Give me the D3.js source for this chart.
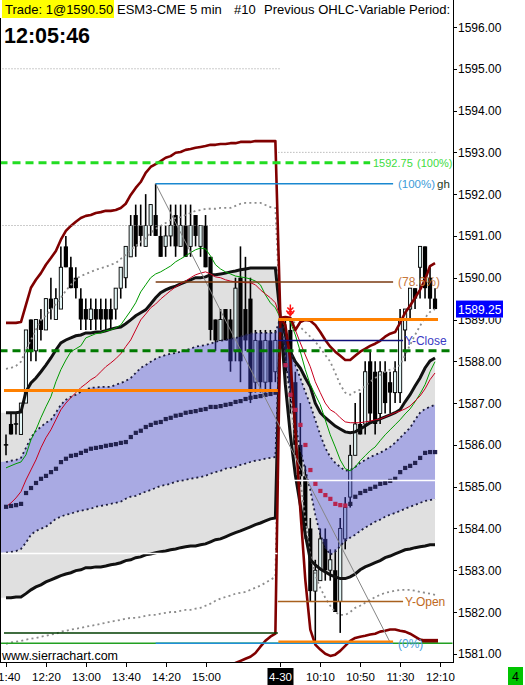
<!DOCTYPE html>
<html><head><meta charset="utf-8">
<script src="https://cdn.jsdelivr.net/npm/d3@7"></script>
<style>body{margin:0;background:#fff;} svg{display:block;}</style>
</head><body><svg id="c" width="525" height="685"></svg>
<script>
// ---------- DATA ----------
const tickIdx = [0,8,16,24,32,40,55,63,71,79,87];
const tickLabels = ["11:40","12:20","13:00","13:40","14:20","15:00","4-30","10:10","10:50","11:30","12:10"];
const priceTicks = [1581,1582,1583,1584,1585,1586,1587,1588,1589,1590,1591,1592,1593,1594,1595,1596];

const openPrev = [1586.0,1586.5,1586.5,1586.25,1587.0,1589.0,1588.25,1589.0,1588.75,1589.5,1589.0,1589.25,1590.75,1590.25,1590.0,1589.5,1589.25,1589.0,1589.25,1589.25,1589.25,1589.25,1589.25,1589.75,1590.0,1590.5,1591.5,1591.25,1590.75,1591.25,1591.5,1591.0,1590.75,1591.0,1591.5,1590.75,1591.25,1590.75,1591.5,1590.75,1591.25,1590.5,1589.0,1588.5,1589.25,1589.0,1588.25,1590.0,1589.25,1589.5,1587.5,1588.5,1587.5,1588.5,1587.75];
const highPrev = [1586.25,1586.75,1586.75,1587.0,1588.75,1589.0,1589.0,1589.25,1589.5,1590.0,1589.75,1590.75,1591.0,1590.5,1590.25,1589.75,1589.5,1589.5,1589.5,1589.5,1589.5,1589.5,1589.75,1590.25,1590.75,1591.5,1591.75,1591.75,1592.0,1591.75,1592.25,1591.25,1591.25,1591.75,1591.75,1591.75,1591.75,1591.75,1591.5,1591.25,1591.5,1590.5,1589.0,1589.25,1589.25,1589.25,1590.0,1590.75,1590.5,1590.0,1588.75,1588.75,1588.75,1588.75,1588.75];
const lowPrev = [1585.75,1586.25,1586.25,1586.25,1587.0,1588.0,1588.0,1588.5,1588.75,1589.0,1589.0,1589.25,1590.25,1589.75,1589.5,1588.75,1588.75,1588.75,1588.75,1588.75,1588.75,1588.75,1589.0,1589.5,1589.75,1590.5,1590.5,1590.75,1590.75,1591.0,1591.0,1590.5,1590.5,1590.75,1590.5,1590.75,1590.5,1590.5,1590.75,1590.5,1590.25,1588.5,1588.25,1588.5,1588.5,1587.75,1588.0,1587.5,1588.25,1587.0,1587.25,1587.25,1587.25,1587.25,1587.5];
const closePrev = [1586.0,1586.25,1586.5,1587.0,1588.75,1588.25,1589.0,1588.75,1589.5,1589.25,1589.5,1590.25,1590.25,1589.75,1589.75,1589.0,1589.0,1589.25,1589.0,1589.0,1589.0,1589.0,1589.75,1590.25,1590.75,1591.25,1590.75,1591.0,1591.25,1591.75,1591.0,1590.5,1591.0,1591.25,1590.75,1591.25,1590.5,1591.25,1591.0,1591.25,1590.25,1588.75,1588.5,1589.0,1588.5,1588.0,1589.75,1588.0,1588.5,1587.25,1588.5,1587.5,1588.5,1587.5,1588.5];
const openNew = [1589.0,1588.5,1588.75,1587.5,1586.0,1585.25,1584.0,1582.5,1582.75,1583.75,1583.0,1583.0,1582.25,1583.75,1584.75,1585.75,1586.5,1586.5,1588.0,1587.75,1586.75,1587.75,1587.5,1587.25,1587.25,1588.75,1589.25,1589.75,1590.25,1590.75,1590.0,1589.5];
const highNew = [1589.0,1589.0,1589.0,1587.75,1587.0,1585.5,1584.25,1583.25,1584.0,1584.0,1583.5,1583.5,1584.25,1584.75,1586.0,1587.0,1587.25,1588.0,1588.25,1588.0,1588.0,1588.0,1587.75,1588.0,1589.25,1589.25,1589.75,1589.75,1590.75,1590.75,1590.25,1589.75];
const lowNew = [1588.5,1587.5,1586.75,1585.75,1585.0,1583.75,1582.25,1581.25,1582.75,1582.75,1582.75,1582.0,1581.5,1583.5,1584.5,1585.75,1586.25,1586.25,1586.5,1586.25,1586.5,1586.75,1586.75,1587.0,1587.0,1588.0,1589.0,1589.25,1589.5,1589.5,1589.25,1589.25];
const closeNew = [1588.5,1587.75,1587.5,1586.0,1585.25,1584.0,1582.5,1583.0,1583.75,1583.0,1583.25,1582.0,1584.0,1584.5,1585.75,1586.5,1586.25,1587.75,1586.75,1586.5,1587.75,1587.0,1587.25,1587.75,1589.0,1589.25,1589.75,1589.5,1590.75,1589.75,1589.5,1589.25];

const envUpperPrev = [1588.92,1588.92,1588.92,1588.94,1589.35,1589.76,1589.95,1590.11,1590.31,1590.47,1590.64,1590.91,1591.12,1591.24,1591.34,1591.43,1591.48,1591.50,1591.55,1591.57,1591.60,1591.60,1591.62,1591.67,1591.77,1591.98,1592.15,1592.29,1592.51,1592.65,1592.72,1592.79,1592.87,1592.91,1592.99,1593.01,1593.06,1593.08,1593.11,1593.13,1593.15,1593.18,1593.18,1593.20,1593.20,1593.22,1593.22,1593.25,1593.25,1593.25,1593.27,1593.27,1593.27,1593.27,1593.27];
const envUpperNew = [1589.04,1589.06,1589.04,1588.75,1588.94,1588.99,1588.97,1588.87,1588.70,1588.51,1588.35,1588.23,1588.13,1588.03,1588.03,1588.13,1588.23,1588.30,1588.37,1588.42,1588.49,1588.59,1588.66,1588.70,1588.92,1589.16,1589.33,1589.52,1589.71,1589.95,1590.28,1590.35];
const envLowerPrev = [null,null,null,null,null,null,null,null,null,null,null,null,null,null,null,null,null,null,null,null,null,null,null,null,null,null,null,null,null,null,null,null,null,null,null,null,null,null,null,null,null,null,null,null,1580.57,1580.71,1580.78,1580.83,1580.88,1580.93,1581.02,1581.17,1581.31,1581.41,1581.48];
const envLowerNew = [1589.04,1588.87,1588.03,1586.36,1584.45,1582.77,1581.58,1581.22,1581.10,1581.00,1580.95,1580.98,1581.07,1581.19,1581.31,1581.38,1581.41,1581.43,1581.46,1581.48,1581.53,1581.55,1581.58,1581.58,1581.55,1581.53,1581.48,1581.41,1581.34,1581.31,1581.31,1581.31];

const bandUpperPrev = [1586.77,1586.77,1586.77,1586.79,1587.27,1587.48,1587.60,1587.75,1587.91,1588.08,1588.27,1588.44,1588.51,1588.56,1588.61,1588.63,1588.68,1588.68,1588.70,1588.70,1588.73,1588.77,1588.80,1588.82,1588.90,1588.99,1589.09,1589.16,1589.23,1589.37,1589.52,1589.64,1589.71,1589.76,1589.80,1589.85,1589.90,1589.95,1590.00,1590.00,1590.02,1590.07,1590.07,1590.09,1590.11,1590.14,1590.16,1590.19,1590.21,1590.23,1590.23,1590.23,1590.23,1590.23,1590.23];
const bandUpperNew = [1589.04,1588.63,1588.23,1587.99,1587.84,1587.60,1587.39,1587.00,1586.77,1586.65,1586.55,1586.45,1586.38,1586.31,1586.29,1586.31,1586.38,1586.45,1586.53,1586.57,1586.62,1586.67,1586.72,1586.77,1586.84,1587.03,1587.20,1587.41,1587.60,1587.84,1588.01,1588.08];
const bandLowerPrev = [1582.34,1582.34,1582.36,1582.36,1582.44,1582.53,1582.60,1582.65,1582.72,1582.77,1582.82,1582.87,1582.91,1582.94,1582.99,1583.01,1583.06,1583.06,1583.08,1583.08,1583.10,1583.13,1583.15,1583.18,1583.23,1583.25,1583.30,1583.32,1583.37,1583.39,1583.42,1583.44,1583.46,1583.49,1583.51,1583.54,1583.56,1583.58,1583.58,1583.61,1583.63,1583.68,1583.73,1583.75,1583.80,1583.85,1583.90,1583.94,1583.99,1584.04,1584.09,1584.13,1584.18,1584.23,1584.25];
const bandLowerNew = [1589.04,1587.44,1586.24,1585.28,1584.56,1583.85,1583.25,1583.13,1583.03,1582.96,1582.89,1582.84,1582.80,1582.80,1582.84,1582.91,1583.01,1583.08,1583.13,1583.18,1583.23,1583.30,1583.34,1583.39,1583.44,1583.49,1583.51,1583.54,1583.56,1583.58,1583.61,1583.61];

const innerUpperPrev = [1585.59,1585.62,1585.64,1585.69,1585.93,1586.17,1586.34,1586.43,1586.53,1586.60,1586.77,1586.96,1587.08,1587.15,1587.20,1587.27,1587.32,1587.37,1587.37,1587.39,1587.39,1587.39,1587.44,1587.48,1587.53,1587.60,1587.72,1587.84,1587.91,1587.99,1588.06,1588.11,1588.15,1588.18,1588.20,1588.23,1588.27,1588.30,1588.35,1588.37,1588.39,1588.42,1588.47,1588.49,1588.51,1588.54,1588.56,1588.59,1588.63,1588.66,1588.68,1588.68,1588.68,1588.68,1588.68];
const innerUpperNew = [1589.04,1588.63,1588.27,1587.91,1587.60,1587.27,1586.96,1586.60,1586.24,1585.93,1585.71,1585.57,1585.47,1585.38,1585.40,1585.47,1585.57,1585.64,1585.71,1585.76,1585.81,1585.88,1585.95,1586.05,1586.17,1586.29,1586.41,1586.60,1586.77,1586.86,1586.91,1586.96];
const innerLowerPrev = [1583.42,1583.44,1583.46,1583.51,1583.66,1583.85,1583.94,1583.99,1584.04,1584.13,1584.23,1584.28,1584.33,1584.35,1584.40,1584.42,1584.45,1584.47,1584.52,1584.54,1584.56,1584.59,1584.61,1584.64,1584.71,1584.76,1584.78,1584.83,1584.88,1584.92,1584.97,1585.02,1585.04,1585.07,1585.12,1585.14,1585.16,1585.19,1585.21,1585.23,1585.26,1585.31,1585.35,1585.38,1585.43,1585.45,1585.47,1585.52,1585.55,1585.59,1585.62,1585.64,1585.67,1585.69,1585.71];
const innerLowerNew = [1589.04,1588.03,1587.20,1586.48,1585.88,1585.40,1584.92,1584.33,1583.85,1583.54,1583.37,1583.44,1583.58,1583.70,1583.78,1583.85,1583.94,1584.02,1584.09,1584.16,1584.21,1584.28,1584.33,1584.37,1584.42,1584.47,1584.52,1584.56,1584.61,1584.66,1584.68,1584.71];

const midPrev = [1584.52,1584.54,1584.56,1584.59,1584.85,1584.97,1585.09,1585.19,1585.26,1585.35,1585.43,1585.59,1585.67,1585.74,1585.76,1585.81,1585.86,1585.91,1585.93,1585.95,1585.98,1586.00,1586.02,1586.05,1586.07,1586.19,1586.29,1586.34,1586.43,1586.48,1586.53,1586.55,1586.62,1586.65,1586.70,1586.72,1586.77,1586.79,1586.81,1586.84,1586.86,1586.91,1586.91,1586.93,1586.96,1586.98,1587.03,1587.05,1587.10,1587.13,1587.15,1587.17,1587.20,1587.22,1587.25];
const midNew = [1588.75,1587.91,1587.20,1586.84,1586.48,1586.00,1585.40,1585.07,1584.90,1584.80,1584.71,1584.59,1584.56,1584.55,1584.59,1584.76,1584.85,1584.90,1584.95,1585.00,1585.07,1585.09,1585.14,1585.19,1585.35,1585.45,1585.50,1585.57,1585.69,1585.81,1585.83,1585.83];

const stdUpperPrev = [1587.82,1587.84,1587.89,1587.99,1588.27,1588.51,1588.75,1588.99,1589.09,1589.23,1589.37,1589.52,1589.69,1589.83,1589.97,1590.04,1590.09,1590.14,1590.19,1590.23,1590.26,1590.31,1590.35,1590.45,1590.55,1590.67,1590.76,1590.86,1590.95,1591.07,1591.17,1591.24,1591.31,1591.38,1591.43,1591.45,1591.50,1591.55,1591.60,1591.62,1591.65,1591.65,1591.65,1591.67,1591.67,1591.67,1591.72,1591.77,1591.79,1591.79,1591.79,1591.79,1591.74,1591.69,1591.67];
const stdUpperNew = [1589.04,1589.04,1588.99,1588.92,1588.82,1588.70,1588.59,1588.47,1588.32,1588.15,1587.99,1587.72,1587.44,1587.25,1587.20,1587.27,1587.32,1587.41,1587.51,1587.60,1587.67,1587.75,1587.80,1587.84,1587.91,1588.15,1588.39,1588.63,1588.85,1589.04,1589.18,1589.25];
const stdLowerPrev = [1581.24,1581.27,1581.29,1581.31,1581.34,1581.36,1581.38,1581.41,1581.43,1581.46,1581.48,1581.53,1581.55,1581.58,1581.60,1581.62,1581.65,1581.67,1581.69,1581.72,1581.74,1581.77,1581.79,1581.81,1581.84,1581.86,1581.86,1581.88,1581.91,1581.93,1581.93,1581.96,1581.98,1582.00,1582.00,1582.03,1582.05,1582.05,1582.08,1582.10,1582.15,1582.20,1582.27,1582.32,1582.36,1582.39,1582.44,1582.46,1582.48,1582.53,1582.58,1582.63,1582.70,1582.77,1582.84];
const stdLowerNew = [1589.04,1588.03,1587.08,1586.12,1585.16,1584.21,1583.37,1582.89,1582.58,1582.34,1582.15,1582.00,1581.93,1581.93,1582.00,1582.10,1582.15,1582.22,1582.29,1582.36,1582.41,1582.46,1582.48,1582.51,1582.53,1582.53,1582.53,1582.51,1582.48,1582.46,1582.44,1582.41];

const maFastPrev = [1585.45,1585.50,1585.55,1585.59,1585.76,1586.12,1586.36,1586.65,1586.91,1587.15,1587.51,1587.80,1588.03,1588.23,1588.30,1588.37,1588.56,1588.61,1588.66,1588.68,1588.73,1588.75,1588.80,1588.87,1589.04,1589.21,1589.40,1589.66,1589.83,1590.00,1590.09,1590.14,1590.21,1590.28,1590.38,1590.45,1590.52,1590.60,1590.67,1590.71,1590.69,1590.52,1590.31,1590.21,1590.14,1590.09,1590.04,1590.02,1590.00,1589.97,1589.92,1589.83,1589.59,1589.40,1589.28];
const maFastNew = [1589.04,1589.04,1588.94,1588.63,1588.23,1587.80,1587.44,1587.20,1586.96,1586.60,1586.24,1585.95,1585.64,1585.43,1585.38,1585.47,1585.62,1585.74,1585.86,1585.95,1586.10,1586.24,1586.36,1586.48,1586.60,1586.74,1586.86,1587.03,1587.22,1587.44,1587.75,1587.99];
const maSlowPrev = [1584.52,1584.61,1584.73,1584.88,1585.16,1585.40,1585.64,1585.93,1586.17,1586.36,1586.60,1586.84,1587.00,1587.13,1587.25,1587.37,1587.46,1587.56,1587.63,1587.75,1587.87,1587.96,1588.06,1588.18,1588.35,1588.51,1588.75,1588.99,1589.13,1589.28,1589.37,1589.49,1589.59,1589.69,1589.78,1589.85,1589.92,1590.00,1590.07,1590.11,1590.14,1590.09,1590.02,1590.00,1589.95,1589.92,1589.90,1589.90,1589.88,1589.88,1589.83,1589.71,1589.61,1589.52,1589.40];
const maSlowNew = [1589.04,1589.04,1588.99,1588.75,1588.44,1588.15,1587.87,1587.51,1587.25,1587.00,1586.84,1586.77,1586.65,1586.55,1586.53,1586.53,1586.53,1586.55,1586.57,1586.60,1586.62,1586.67,1586.72,1586.77,1586.81,1586.86,1586.93,1587.05,1587.17,1587.34,1587.56,1587.72];

// level values
const prevFib100 = 1592.75, fibHigh = 1592.25, fib786 = 1589.90, fibLow = 1581.25;
const todayOpen = 1589.00, yClose = 1588.50, pivotLine = 1588.25, prevOrange = 1587.30;
const yOpen = 1582.25, prevGreenLow = 1581.50, whiteNew = 1585.15, whitePrev = 1583.40;
const dotTop = 1595.00, dotPrev = 1591.25, dotNew = 1593.00;
const lastPrice = 1589.25;

// ---------- DRAW ----------
const N = 87;
const open = openPrev.concat(openNew), high = highPrev.concat(highNew), low = lowPrev.concat(lowNew), close = closePrev.concat(closeNew);
const envU = envUpperPrev.concat(envUpperNew), envL = envLowerPrev.concat(envLowerNew);
const bU = bandUpperPrev.concat(bandUpperNew), bL = bandLowerPrev.concat(bandLowerNew);
const iU = innerUpperPrev.concat(innerUpperNew), iL = innerLowerPrev.concat(innerLowerNew);
const mid = midPrev.concat(midNew);
const sU = stdUpperPrev.concat(stdUpperNew), sL = stdLowerPrev.concat(stdLowerNew);
const maF = maFastPrev.concat(maFastNew), maS = maSlowPrev.concat(maSlowNew);
const idx = d3.range(N);

const svg = d3.select("#c");
const FONT = "'Liberation Sans', Arial, sans-serif";
const x = d3.scaleLinear().domain([0, 87]).range([6, 440]);
const y = d3.scaleLinear().domain([1581, 1596]).range([653.8, 27]);
const plotR = 453, plotB = 662;

svg.append("rect").attr("width",525).attr("height",685).attr("fill","#fff");
svg.append("defs").append("clipPath").attr("id","pc").append("rect")
  .attr("x",1).attr("y",18).attr("width",plotR-1).attr("height",plotB-18);
const g = svg.append("g").attr("clip-path","url(#pc)");

// fills extend one bar to the left edge of the plot
const xf = i => i === 0 ? 1 : x(i);
const area = (lo, hi) => d3.area().x(xf).y0(i=>y(lo[i])).y1(i=>y(hi[i]));
const line = (arr) => d3.line().defined(i=>arr[i]!=null).x(i=>x(i)).y(i=>y(arr[i]));

g.append("path").attr("d", area(bL,bU)(idx)).attr("fill","#e0e0e0");
g.append("path").attr("d", area(iL,iU)(idx)).attr("fill","#fff");

const hline = (p, i0, i1, color, w, dash) => {
  const l = g.append("line").attr("x1",x(i0)).attr("x2",x(i1)).attr("y1",y(p)).attr("y2",y(p))
    .attr("stroke",color).attr("stroke-width",w);
  if (dash) l.attr("stroke-dasharray",dash);
  return l;
};

// candles
const cg = g.append("g");
idx.forEach(i => {
  const o=open[i], c=close[i], h=high[i], l=low[i], cx=x(i);
  cg.append("line").attr("x1",cx).attr("x2",cx).attr("y1",y(h)).attr("y2",y(l))
    .attr("stroke","#000").attr("stroke-width",1.6);
  const top = y(Math.max(o,c)), bot = y(Math.min(o,c));
  if (c > o) {
    cg.append("rect").attr("x",cx-1.6).attr("y",top).attr("width",3.2).attr("height",Math.max(1,bot-top))
      .attr("fill","#e2f5f5").attr("stroke","#000").attr("stroke-width",0.9);
  } else if (c < o) {
    cg.append("rect").attr("x",cx-2.1).attr("y",top).attr("width",4.2).attr("height",Math.max(1,bot-top)).attr("fill","#000");
  } else {
    cg.append("line").attr("x1",cx-2.2).attr("x2",cx+2.2).attr("y1",top).attr("y2",top).attr("stroke","#000").attr("stroke-width",1.5);
  }
});

// purple translucent inner band over candles
g.append("path").attr("d", area(iL,iU)(idx)).attr("fill","rgb(60,62,192)").attr("fill-opacity",0.44);

[sU,sL].forEach(a => g.append("path").attr("d", line(a)(idx)).attr("fill","none")
  .attr("stroke","#8c8c8c").attr("stroke-width",1.8).attr("stroke-dasharray","2,3.2"));
[bU,bL].forEach(a => g.append("path").attr("d", line(a)(idx)).attr("fill","none")
  .attr("stroke","#111").attr("stroke-width",3));
[iU,iL].forEach(a => g.append("path").attr("d", line(a)(idx)).attr("fill","none")
  .attr("stroke","#1c1c3c").attr("stroke-width",1.8).attr("stroke-dasharray","2,3"));
g.append("path").attr("d", line(maF)(idx)).attr("fill","none").attr("stroke","#009a00").attr("stroke-width",1);
g.append("path").attr("d", line(maS)(idx)).attr("fill","none").attr("stroke","#c8001e").attr("stroke-width",1);
[envU,envL].forEach(a => g.append("path").attr("d", line(a)(idx)).attr("fill","none")
  .attr("stroke","#800000").attr("stroke-width",2.6).attr("stroke-linejoin","round"));
g.append("line").attr("x1",x(83.4)).attr("x2",x(86.6)).attr("y1",y(envL[86])).attr("y2",y(envL[86]))
  .attr("stroke","#800000").attr("stroke-width",4);
idx.forEach(i => {
  const falling = i>0 && mid[i] < mid[i-1];
  g.append("rect").attr("x",x(i)-2).attr("y",y(mid[i])-2).attr("width",4.2).attr("height",4.2)
    .attr("fill", falling ? "#b8244e" : "#22224e");
});

g.append("line").attr("x1",x(30)).attr("y1",y(fibHigh)).attr("x2",x(77.1)).attr("y2",y(fibLow))
  .attr("stroke","#858585").attr("stroke-width",1);

hline(dotTop, -1.3, 54.9, "#999", 1, "1,2");
hline(dotPrev, -1.3, 54.3, "#999", 1, "1,2");
hline(dotNew, 54.6, 86.4, "#999", 1, "1,2");
hline(whitePrev, -1.3, 54.4, "#fff", 1.5);
hline(whiteNew, 54.8, 86.9, "#fff", 1.5);
hline(fibLow, -1.3, 89.5, "#22a022", 1.5);
hline(fibLow, 30, 77.6, "#1f8fd8", 1.5);
hline(prevGreenLow, -0.4, 54.5, "#003c00", 1.5);
hline(fibLow+0.04, 54.6, 77.6, "#ff8000", 2.2);
hline(yOpen, 54.5, 79.6, "#a8601e", 1.5);
hline(prevOrange, -0.4, 54.5, "#ff8000", 3);
hline(pivotLine, -1.3, 89.4, "#007a00", 3, "8,5");
hline(yClose, 54.5, 79.6, "#10107a", 1.5);
hline(todayOpen, 54.6, 86.6, "#ff8000", 3);
hline(fib786, 30, 77.6, "#7a3a10", 1.5);
hline(fibHigh, 30, 77.6, "#1a88d0", 1.5);
hline(prevFib100, -1.3, 73.0, "#22dd22", 3, "8,5");

const mx = x(57), my = y(todayOpen) - 4;
g.append("path").attr("d", `M${mx},${my-11}L${mx},${my} M${mx-4},${my-5}L${mx},${my}L${mx+4},${my-5} M${mx-3},${my-8}L${mx+3},${my-2} M${mx+3},${my-8}L${mx-3},${my-2}`)
  .attr("stroke","#ff1010").attr("stroke-width",1.5).attr("fill","none");

const lab = (t, xx, p, color, fs=12) => svg.append("text").attr("x",xx).attr("y",y(p)+4.5).text(t)
  .attr("fill",color).attr("font-family",FONT).attr("font-size",fs);
lab("1592.75", 373, prevFib100, "#3ddc3d", 11);
lab("(100%)", 417, prevFib100, "#3ddc3d", 11);
lab("(100%)", 398, fibHigh, "#3b9bd8", 11.5);
lab("gh", 437, fibHigh, "#1e3a1e", 11.5);
lab("(78.6%)", 398, fib786, "#c8783c", 12);
lab("Y-Close", 405, yClose, "#3a3ac4", 12);
lab("Y-Open", 405, yOpen, "#c06a22", 12);
lab("(0%)", 398, fibLow, "#4a9ee0", 12);

svg.append("line").attr("x1",0.5).attr("x2",0.5).attr("y1",18).attr("y2",plotB).attr("stroke","#000");
svg.append("line").attr("x1",plotR+0.5).attr("x2",plotR+0.5).attr("y1",0).attr("y2",plotB+1).attr("stroke","#000");
svg.append("line").attr("x1",0).attr("x2",plotR+1).attr("y1",plotB+0.5).attr("y2",plotB+0.5).attr("stroke","#000");

priceTicks.forEach(p => {
  svg.append("line").attr("x1",plotR).attr("x2",plotR+4).attr("y1",Math.round(y(p))+0.5).attr("y2",Math.round(y(p))+0.5).attr("stroke","#000");
  if (Math.abs(p - lastPrice) > 0.5)
    svg.append("text").attr("x",458).attr("y",y(p)+4.5).text(p.toFixed(2))
      .attr("font-family",FONT).attr("font-size",12).attr("fill","#000");
  else
    svg.append("text").attr("x",458).attr("y",y(p)+4.5).text(p.toFixed(2))
      .attr("font-family",FONT).attr("font-size",12).attr("fill","#000").attr("clip-path","url(#lowhalf)");
});
svg.select("defs").append("clipPath").attr("id","lowhalf").append("rect")
  .attr("x",454).attr("y",y(lastPrice)+8.5).attr("width",60).attr("height",10);
svg.append("rect").attr("x",456).attr("y",y(lastPrice)-8.5).attr("width",47).attr("height",17).attr("fill","#0000ff");
svg.append("text").attr("x",458).attr("y",y(lastPrice)+4.5).text(lastPrice.toFixed(2))
  .attr("font-family",FONT).attr("font-size",12).attr("fill","#fff");

tickIdx.forEach((t,k) => {
  const tx = Math.round(x(t))+0.5;
  svg.append("line").attr("x1",tx).attr("x2",tx).attr("y1",plotB).attr("y2",plotB+5).attr("stroke","#000");
  const isDate = tickLabels[k].includes("-");
  if (isDate) svg.append("rect").attr("x",tx-13).attr("y",668).attr("width",26).attr("height",17).attr("fill","#000");
  svg.append("text").attr("x",tx).attr("y",681).attr("text-anchor","middle").text(tickLabels[k])
    .attr("font-family",FONT).attr("font-size",11.5).attr("fill", isDate ? "#fff" : "#000");
});

svg.append("rect").attr("x",508).attr("y",667).attr("width",15).attr("height",18).attr("fill","#00c400");
svg.append("text").attr("x",515.5).attr("y",681).attr("text-anchor","middle").text("4")
  .attr("font-family",FONT).attr("font-size",12.5).attr("fill","#000");

svg.append("rect").attr("x",2).attr("y",0).attr("width",112).attr("height",18).attr("fill","#ffff00");
const hdr = (t, xx) => svg.append("text").attr("x",xx).attr("y",13.5).text(t)
  .attr("font-family",FONT).attr("font-size",13).attr("fill","#000");
hdr("Trade: 1@1590.50", 5);
hdr("ESM3-CME", 117);
hdr("5 min", 190);
hdr("#10", 234);
hdr("Previous OHLC-Variable Period:", 264);
svg.append("text").attr("x",4).attr("y",43).text("12:05:46")
  .attr("font-family",FONT).attr("font-size",21.5).attr("font-weight","bold").attr("fill","#000");
svg.append("text").attr("x",2).attr("y",660).text("www.sierrachart.com")
  .attr("font-family",FONT).attr("font-size",12.5).attr("fill","#000");
</script></body></html>
